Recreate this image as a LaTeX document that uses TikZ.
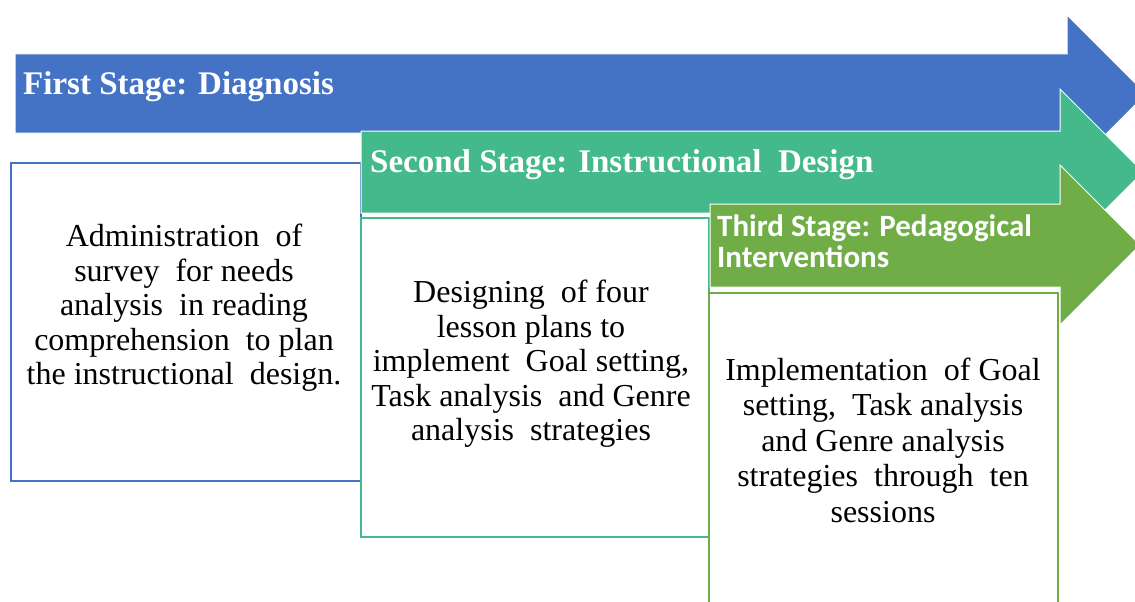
\documentclass[tikz,border=0pt]{standalone}
\usepackage{fontspec}
\setmainfont{Liberation Serif}
\newfontfamily\calib{Carlito}
\definecolor{stageblue}{HTML}{4472C4}
\definecolor{stageteal}{HTML}{44B98C}
\definecolor{stagegreen}{HTML}{70AD47}
\begin{document}
\begin{tikzpicture}[x=1pt,y=-1pt,
  banner/.style={draw=white, line width=1pt},
  stagebox/.style={draw=#1, fill=white, line width=1.4pt},
  title/.style={text=white, font=\bfseries\fontsize{33}{38}\selectfont, anchor=base west, inner sep=0pt},
  body/.style={align=center, font=\fontsize{32}{34.5}\selectfont, inner sep=0pt}]
\useasboundingbox (0,0) rectangle (1135,602);
\clip (0,0) rectangle (1135,602);

% first stage: banner arrow and box
\fill[stageblue, banner] (15,54) -- (1067,54) -- (1067,15) -- (1146,94) -- (1067,173) -- (1067,133) -- (15,133) -- cycle;
\node[title] (t1) at (23,94) {First\ Stage: Diagnosis};
\draw[stagebox=stageblue] (11,163) rectangle (361,481);
\node[body] (b1) at (184,308) {Administration\ \ of\\survey\ \ for needs\\analysis\ \ in reading\\comprehension\ \ to plan\\the instructional\ \ design.};

% second stage
\fill[stageteal, banner] (361,131) -- (1060,131) -- (1060,89) -- (1143,172) -- (1060,255) -- (1060,213) -- (361,213) -- cycle;
\node[title] (t2) at (370,172) {Second Stage: Instructional\ \ Design};
\draw[stagebox=stageteal] (361,218) rectangle (709,537);
\node[body] (b2) at (531,364) {Designing\ \ of four\\lesson\ plans\ to\\implement\ \ Goal\ setting,\\Task analysis\ \ and Genre\\analysis\ \ strategies};

% third stage
\fill[stagegreen, banner] (710,204) -- (1060,204) -- (1060,165) -- (1140,245) -- (1060,325) -- (1060,287) -- (710,287) -- cycle;
\node[title, font=\calib\bfseries\fontsize{31}{31.5}\selectfont, align=left, anchor=west] (t3) at (717,241) {Third Stage: Pedagogical\\Interventions};
\draw[stagebox=stagegreen] (709,293) rectangle (1058,640);
\node[body, font=\fontsize{32}{35.5}\selectfont] (b3) at (883,440) {Implementation\ \ of Goal\\setting,\ \ Task analysis\\and Genre\ analysis\\strategies\ \ through\ \ ten\\sessions};
\end{tikzpicture}
\end{document}
